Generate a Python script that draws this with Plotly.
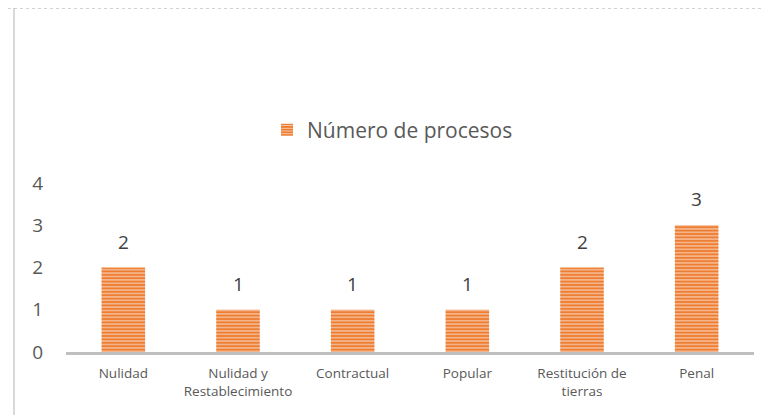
import plotly.graph_objects as go

categories = ["Nulidad", "Nulidad y<br>Restablecimiento", "Contractual", "Popular",
              "Restitución de<br>tierras", "Penal"]
values = [2, 1, 1, 1, 2, 3]
series_name = "Número de procesos"
y_ticks = [0, 1, 2, 3, 4]

# page body has an 8px margin: the figure starts at (8, 8) of the window
OFF = 8
W, H = 769 - OFF, 415 - OFF
# plot area in window pixels: x 66..746, y 183..352
L, R = 66 - OFF, 769 - 746 - OFF
T, B = 183 - OFF, 415 - 352
pw, ph = W - L - R, H - T - B

def px2x(p):
    return (p - OFF - L) / pw

def px2y(p):
    return (H - B - (p - OFF)) / ph

fig = go.Figure()
fig.add_trace(go.Bar(
    x=categories, y=values, name=series_name,
    width=0.38,
    marker=dict(
        color="#ED7D31",
        line=dict(width=0),
        pattern=dict(shape="-", fgcolor="#F8CBAD", bgcolor="#ED7D31",
                     size=3.4, solidity=0.35, fillmode="replace"),
    ),
    showlegend=True,
))

annotations = [
    dict(x=c, y=v, xref="x", yref="y", text=str(v), showarrow=False,
         yanchor="bottom", yshift=11,
         font=dict(family="Open Sans, Calibri, sans-serif", size=19, color="#404040"))
    for c, v in zip(categories, values)
]

fig.update_layout(
    width=W, height=H,
    margin=dict(l=L, r=R, t=T, b=B, pad=0),
    paper_bgcolor="white", plot_bgcolor="white",
    font=dict(family="Open Sans, Calibri, sans-serif", color="#595959"),
    showlegend=True,
    legend=dict(
        orientation="h", x=px2x(267), xanchor="left", y=px2y(130), yanchor="middle",
        font=dict(size=21, color="#595959"),
        itemwidth=30, bgcolor="rgba(0,0,0,0)",
    ),
    xaxis=dict(
        showline=True, linecolor="#BFBFBF", linewidth=3,
        showgrid=False, ticks="", zeroline=False,
        tickfont=dict(size=13.5, color="#595959"),
        ticklabelstandoff=7,
        fixedrange=True,
    ),
    yaxis=dict(
        range=[0, 4], tickvals=y_ticks, showgrid=False, zeroline=False,
        showline=False, ticks="",
        tickfont=dict(size=19, color="#595959"),
        ticklabelstandoff=22,
    ),
    annotations=annotations,
    shapes=[
        dict(type="line", xref="paper", yref="paper",
             x0=px2x(14), x1=px2x(14), y0=px2y(8), y1=px2y(415),
             line=dict(color="#D9D9D9", width=2)),
        dict(type="line", xref="paper", yref="paper",
             x0=px2x(8), x1=px2x(769), y0=px2y(8), y1=px2y(8),
             line=dict(color="#A6A6A6", width=1, dash="dot")),
    ],
)

fig.write_html("out.html")
